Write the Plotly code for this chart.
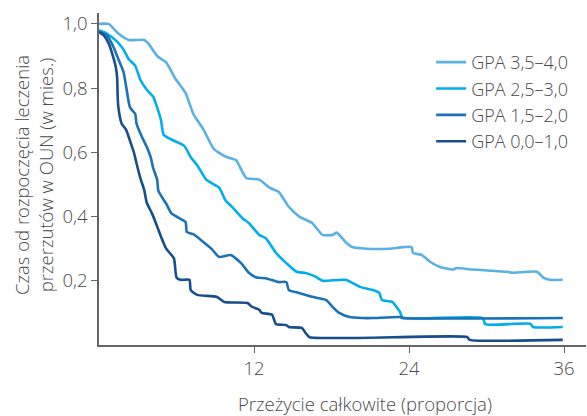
import plotly.graph_objects as go

# GPA 3,5–4,0
x1 = [0, 0.74, 1.5, 2.3, 3.5, 3.8, 4.5, 5.2, 5.9, 6.7, 7.3, 8.1, 8.9, 9.9, 10.6, 11.4, 12.4, 13.2, 13.9,
      14.7, 15.5, 16.5, 17.3, 18.1, 18.4, 19.1, 19.6, 20.7, 22.5, 24.2, 24.3, 25.0, 25.6, 26.4, 27.4, 27.7,
      28.9, 31.6, 32.0, 33.9, 34.4, 34.9, 35.9]
y1 = [1.0, 1.0, 0.97, 0.95, 0.95, 0.94, 0.90, 0.88, 0.83, 0.785, 0.72, 0.67, 0.61, 0.585, 0.576, 0.52, 0.515,
      0.49, 0.477, 0.43, 0.40, 0.38, 0.343, 0.343, 0.35, 0.32, 0.305, 0.30, 0.30, 0.305, 0.287, 0.28, 0.26,
      0.243, 0.235, 0.24, 0.235, 0.228, 0.225, 0.228, 0.21, 0.203, 0.203]

# GPA 2,5–3,0
x2 = [0, 0.6, 1.4, 1.9, 2.3, 2.8, 3.2, 3.7, 4.2, 4.5, 4.8, 5.0, 5.6, 6.6, 7.1, 7.6, 8.3, 9.3, 9.8, 10.3,
      11.1, 11.6, 12.4, 12.9, 13.7, 14.5, 15.3, 16.0, 16.8, 17.3, 19.1, 20.2, 21.2, 21.7, 21.9, 22.7, 23.3,
      23.5, 29.7, 29.9, 33.4, 33.6, 35.9]
y2 = [0.98, 0.97, 0.945, 0.92, 0.89, 0.87, 0.826, 0.795, 0.773, 0.74, 0.70, 0.655, 0.64, 0.62, 0.585, 0.56,
      0.515, 0.49, 0.45, 0.43, 0.395, 0.38, 0.343, 0.333, 0.287, 0.255, 0.228, 0.224, 0.212, 0.20, 0.203,
      0.181, 0.171, 0.162, 0.14, 0.134, 0.103, 0.085, 0.084, 0.065, 0.066, 0.056, 0.056]

# GPA 1,5–2,0
x3 = [0, 0.6, 1.1, 1.5, 1.9, 2.1, 2.4, 2.8, 2.9, 3.3, 3.7, 4.0, 4.2, 4.5, 4.6, 5.2, 5.6, 6.0, 6.7, 6.8,
      7.3, 8.1, 8.7, 9.3, 10.2, 11.0, 11.6, 12.2, 12.9, 13.9, 14.5, 14.7, 15.5, 16.5, 17.6, 18.1, 18.6,
      19.4, 20.4, 21.2, 23.3, 23.5, 35.9]
y3 = [0.975, 0.965, 0.93, 0.89, 0.85, 0.805, 0.74, 0.72, 0.69, 0.65, 0.617, 0.585, 0.55, 0.515, 0.48, 0.44,
      0.41, 0.40, 0.383, 0.352, 0.345, 0.32, 0.30, 0.274, 0.28, 0.255, 0.225, 0.21, 0.208, 0.196, 0.196,
      0.171, 0.162, 0.150, 0.14, 0.118, 0.10, 0.087, 0.084, 0.084, 0.087, 0.084, 0.084]

# GPA 0,0–1,0
x4 = [0, 0.35, 0.74, 1.0, 1.3, 1.4, 1.45, 1.5, 1.75, 2.1, 2.45, 2.7, 2.9, 3.2, 3.5, 3.7, 4.1, 4.4, 4.8,
      5.2, 5.8, 6.0, 6.3, 7.0, 7.1, 7.6, 9.1, 9.7, 11.5, 11.8, 12.4, 12.6, 13.4, 13.7, 14.5, 14.7, 15.7,
      16.0, 16.3, 28.5, 28.7, 35.9]
y4 = [0.975, 0.965, 0.94, 0.91, 0.866, 0.835, 0.77, 0.74, 0.69, 0.67, 0.63, 0.60, 0.567, 0.52, 0.483,
      0.443, 0.41, 0.38, 0.337, 0.30, 0.27, 0.21, 0.203, 0.203, 0.171, 0.156, 0.15, 0.134, 0.131, 0.12,
      0.11, 0.10, 0.094, 0.065, 0.062, 0.056, 0.053, 0.037, 0.024, 0.025, 0.016, 0.016]

names = ["GPA 3,5–4,0", "GPA 2,5–3,0", "GPA 1,5–2,0", "GPA 0,0–1,0"]
colors = ["#5ab2e3", "#00aeef", "#1a72b9", "#164f8c"]

x_ticks = [12, 24, 36]
y_ticks = [0.2, 0.4, 0.6, 0.8, 1.0]
y_tick_labels = ["0,2", "0,4", "0,6", "0,8", "1,0"]

FONT = "Open Sans"
TXT = "#4a4a4a"
FS = 18.5

fig = go.Figure()
for xs, ys, nm, c in zip([x1, x2, x3, x4], [y1, y2, y3, y4], names, colors):
    fig.add_trace(go.Scatter(x=xs, y=ys, mode="lines", name=nm,
                             line=dict(color=c, width=2.6, shape="spline", smoothing=0.5)))

fig.update_layout(
    width=587, height=416,
    margin=dict(l=99, r=1, t=13, b=71, autoexpand=False),
    paper_bgcolor="white", plot_bgcolor="white",
    font=dict(family=FONT, size=FS, color=TXT, weight=300),
    showlegend=True,
    legend=dict(x=0.682, y=0.907, xanchor="left", yanchor="top",
                font=dict(size=18, color=TXT, family=FONT, weight=300),
                bgcolor="rgba(0,0,0,0)", tracegroupgap=0, itemwidth=30),
    xaxis=dict(range=[0, 37.7], tickvals=x_ticks, ticktext=[str(v) for v in x_ticks],
               showgrid=False, zeroline=False, showline=True, linecolor="#666666", linewidth=1.5,
               ticks="outside", ticklen=6, tickcolor="#666666", tickwidth=1.2,
               tickfont=dict(size=FS, color=TXT), automargin=False),
    yaxis=dict(range=[0, 1.034], tickvals=y_ticks, ticktext=y_tick_labels,
               showgrid=False, zeroline=False, showline=True, linecolor="#666666", linewidth=1.5,
               ticks="outside", ticklen=6, tickcolor="#666666", tickwidth=1.2,
               tickfont=dict(size=FS, color=TXT), automargin=False),
    annotations=[
        dict(text="Przeżycie całkowite (proporcja)", xref="paper", yref="paper",
             x=0.546, y=0, xanchor="center", yanchor="middle", yshift=-58, showarrow=False,
             font=dict(size=FS, color=TXT, family=FONT, weight=300)),
        dict(text="Czas od rozpoczęcia leczenia<br>przerzutów w OUN (w mies.)", xref="paper", yref="paper",
             x=0, y=0.5, xanchor="center", yanchor="middle", xshift=-66, yshift=4, textangle=-90,
             showarrow=False, font=dict(size=FS, color=TXT, family=FONT, weight=300)),
    ],
)

fig.write_html("out.html", config={"displayModeBar": False},
               post_script="document.body.style.margin='0';document.body.style.overflow='hidden';")
